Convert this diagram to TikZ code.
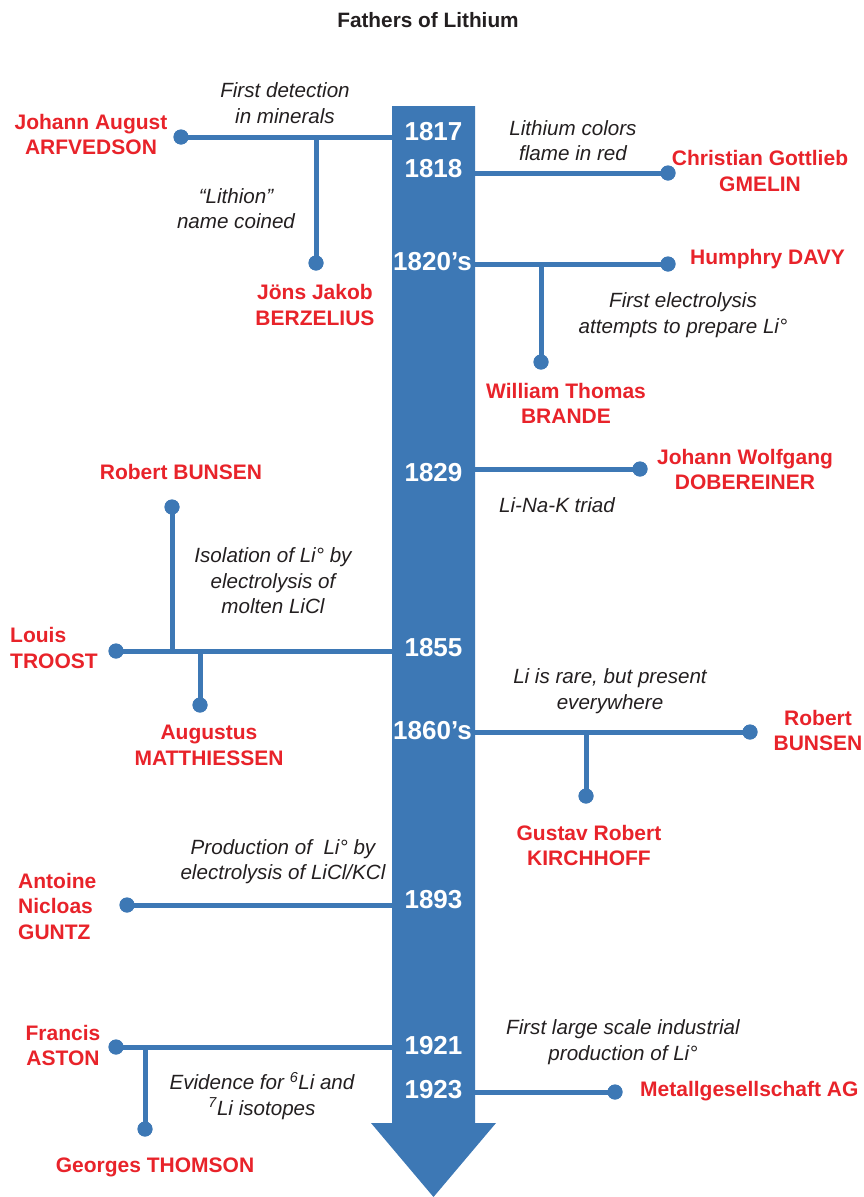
\documentclass[tikz,border=0pt]{standalone}
\usepackage{fontspec}
\setmainfont{Liberation Sans}
\definecolor{lineblue}{RGB}{61,120,181}
\definecolor{namered}{RGB}{232,35,42}
\definecolor{notegray}{RGB}{35,31,32}
\tikzset{
  link/.style={draw=lineblue, line width=5pt},
  dot/.style={circle, fill=lineblue, inner sep=0pt, minimum size=15pt},
  person/.style={text=namered, font=\fontsize{21}{25.5}\selectfont\bfseries, align=center, inner sep=0pt},
  note/.style={text=notegray, font=\fontsize{20.6}{25.5}\selectfont\itshape, align=center, inner sep=0pt},
  year/.style={text=white, font=\fontsize{26}{30}\selectfont\bfseries, inner sep=0pt},
  heading/.style={text=notegray, font=\fontsize{20.8}{25}\selectfont\bfseries, inner sep=0pt},
}
\begin{document}
\begin{tikzpicture}[x=1pt, y=-1pt]
\useasboundingbox (0,0) rectangle (863,1197);

% title
\node[heading] (title) at (428,20) {Fathers of Lithium};

% time bar with arrow head
\fill[lineblue] (392,106) -- (475,106) -- (475,1123) -- (496,1123)
  -- (433.5,1197) -- (371,1123) -- (392,1123) -- cycle;

% attachment points on the bar
\coordinate (e1817) at (392,137);
\coordinate (e1818) at (475,173);
\coordinate (e1820) at (475,264);
\coordinate (e1829) at (475,469);
\coordinate (e1855) at (392,651);
\coordinate (e1860) at (475,732);
\coordinate (e1893) at (392,905);
\coordinate (e1921) at (392,1047);
\coordinate (e1923) at (475,1092);

% branch points
\coordinate (j-arf) at (316,137);
\coordinate (j-davy) at (541,264);
\coordinate (j-bunsen1) at (172,651);
\coordinate (j-matth) at (200,651);
\coordinate (j-kirch) at (586,732);
\coordinate (j-thomson) at (145,1047);

% end dots
\node[dot] (d-arf) at (181,137) {};
\node[dot] (d-berz) at (316,263) {};
\node[dot] (d-gmelin) at (668,173) {};
\node[dot] (d-davy) at (668,264) {};
\node[dot] (d-brande) at (541,362) {};
\node[dot] (d-dober) at (640,469) {};
\node[dot] (d-troost) at (116,651) {};
\node[dot] (d-bunsen1) at (172,507) {};
\node[dot] (d-matth) at (200,705) {};
\node[dot] (d-bunsen2) at (750,732) {};
\node[dot] (d-kirch) at (586,796) {};
\node[dot] (d-guntz) at (127,905) {};
\node[dot] (d-aston) at (116,1047) {};
\node[dot] (d-thomson) at (145,1129) {};
\node[dot] (d-metall) at (615,1092) {};

% connectors
\draw[link] (d-arf.center) -- (e1817);
\draw[link] (j-arf) -- (d-berz.center);
\draw[link] (e1818) -- (d-gmelin.center);
\draw[link] (e1820) -- (d-davy.center);
\draw[link] (j-davy) -- (d-brande.center);
\draw[link] (e1829) -- (d-dober.center);
\draw[link] (d-troost.center) -- (e1855);
\draw[link] (j-bunsen1) -- (d-bunsen1.center);
\draw[link] (j-matth) -- (d-matth.center);
\draw[link] (e1860) -- (d-bunsen2.center);
\draw[link] (j-kirch) -- (d-kirch.center);
\draw[link] (d-guntz.center) -- (e1893);
\draw[link] (d-aston.center) -- (e1921);
\draw[link] (j-thomson) -- (d-thomson.center);
\draw[link] (e1923) -- (d-metall.center);

% redraw dots over line ends
\foreach \d in {d-arf,d-berz,d-gmelin,d-davy,d-brande,d-dober,d-troost,d-bunsen1,d-matth,d-bunsen2,d-kirch,d-guntz,d-aston,d-thomson,d-metall}
  \fill[lineblue] (\d.center) circle (7.5);

% years
\node[year] (y1817) at (433.5,132) {1817};
\node[year] (y1818) at (433.5,169) {1818};
\node[year] (y1820) at (432.5,262) {1820’s};
\node[year] (y1829) at (433.5,473) {1829};
\node[year] (y1855) at (433.5,648) {1855};
\node[year] (y1860) at (432.5,731) {1860’s};
\node[year] (y1893) at (433.5,900) {1893};
\node[year] (y1921) at (433.5,1046) {1921};
\node[year] (y1923) at (433.5,1090) {1923};

% people
\node[person] (n-arf) at (91,134.5) {Johann August\\ARFVEDSON};
\node[person] (n-berz) at (315,305) {Jöns Jakob\\BERZELIUS};
\node[person] (n-gmelin) at (760,171) {Christian Gottlieb\\GMELIN};
\node[person, anchor=west] (n-davy) at (690,259) {Humphry DAVY};
\node[person] (n-brande) at (566,403.5) {William Thomas\\BRANDE};
\node[person] (n-dober) at (745,469.5) {Johann Wolfgang\\DOBEREINER};
\node[person] (n-bunsen1) at (181,472) {Robert BUNSEN};
\node[person, align=left, anchor=west] (n-troost) at (10,648) {Louis\\TROOST};
\node[person] (n-matth) at (209,745.5) {Augustus\\MATTHIESSEN};
\node[person] (n-bunsen2) at (818,730.5) {Robert\\BUNSEN};
\node[person] (n-kirch) at (589,845.5) {Gustav Robert\\KIRCHHOFF};
\node[person, align=left, anchor=west] (n-guntz) at (18,906) {Antoine\\Nicloas\\GUNTZ};
\node[person] (n-aston) at (63,1045.5) {Francis\\ASTON};
\node[person] (n-thomson) at (155,1167) {Georges THOMSON};
\node[person, anchor=west] (n-metall) at (640,1091) {Metallgesellschaft AG};

% notes
\node[note] (t-first) at (285,103) {First detection\\in minerals};
\node[note] (t-lithion) at (236,208.5) {“Lithion”\\name coined};
\node[note] (t-flame) at (573,140.5) {Lithium colors\\flame in red};
\node[note] (t-electro) at (683,315) {First electrolysis\\attempts to prepare Li°};
\node[note] (t-triad) at (557,505) {Li-Na-K triad};
\node[note] (t-isol) at (273,581) {Isolation of Li° by\\electrolysis of\\molten LiCl};
\node[note] (t-rare) at (610,691) {Li is rare, but present\\everywhere};
\node[note] (t-prod) at (283,861.5) {Production of~ Li° by\\electrolysis of LiCl/KCl};
\node[note] (t-iso) at (262,1096) {Evidence for \textsuperscript{6}Li and\\\textsuperscript{7}Li isotopes};
\node[note] (t-industrial) at (623,1042) {First large scale industrial\\production of Li°};
\end{tikzpicture}
\end{document}
